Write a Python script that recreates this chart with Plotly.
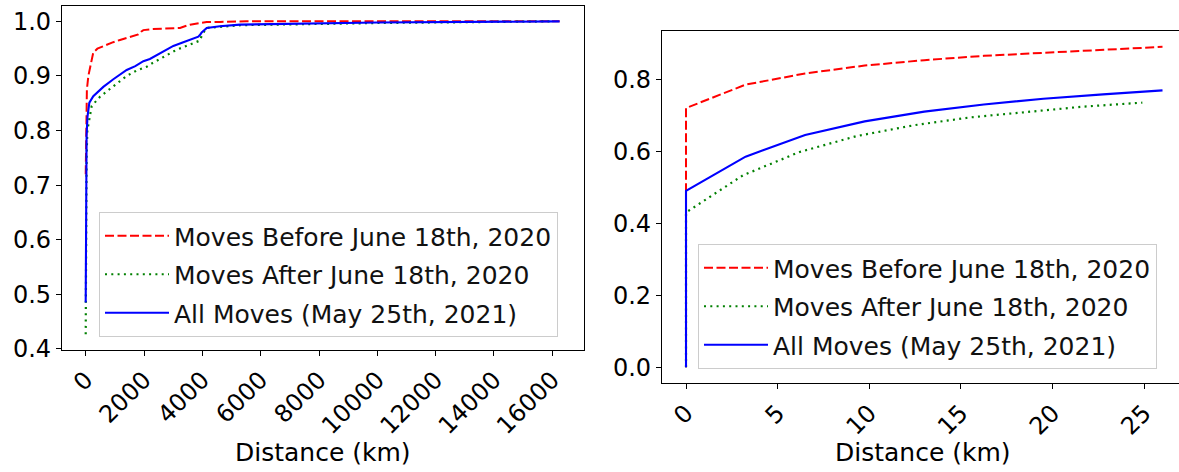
import plotly.graph_objects as go

# ---------------- data ----------------
# Left panel: full distance range (km) vs cumulative fraction
before_km = [0, 15, 40, 90, 180, 260, 400, 604, 900, 1176, 1500, 1804, 1900, 1976,
             2300, 2548, 3000, 3234, 3400, 3577, 3900, 4150, 4600, 5500, 16250]
before_cdf = [0.72, 0.84, 0.875, 0.90, 0.925, 0.943, 0.950, 0.955, 0.961, 0.966, 0.971,
              0.976, 0.981, 0.984, 0.986, 0.9866, 0.987, 0.988, 0.991, 0.994, 0.997,
              0.9987, 0.999, 1.0, 1.0]

after_km = [0, 10, 30, 56, 205, 490, 833, 1100, 1405, 1750, 2092, 2300, 2548, 2850,
            3120, 3500, 3920, 3990, 4150, 5292, 7115, 10000, 16000]
after_cdf = [0.427, 0.66, 0.75, 0.80, 0.845, 0.862, 0.876, 0.888, 0.900, 0.910, 0.917,
             0.924, 0.931, 0.940, 0.948, 0.956, 0.965, 0.976, 0.988, 0.993, 0.995, 0.997, 1.0]

all_km = [0, 10, 30, 60, 125, 260, 430, 604, 947, 1200, 1405, 1700, 1977, 2200, 2435,
          2700, 3005, 3300, 3577, 3862, 3930, 3977, 4150, 4600, 5292, 7115, 10000, 16250]
all_cdf = [0.485, 0.72, 0.79, 0.825, 0.851, 0.863, 0.872, 0.880, 0.894, 0.903, 0.911,
           0.918, 0.927, 0.931, 0.938, 0.946, 0.955, 0.961, 0.967, 0.972, 0.976, 0.9796,
           0.988, 0.991, 0.994, 0.996, 0.998, 1.0]

# Right panel: zoom on the first ~26 km
zoom_km = [0, 0, 3.25, 6.5, 9.75, 13, 16.25, 19.5, 22.75, 26]
zoom_before = [0, 0.72, 0.785, 0.816, 0.838, 0.853, 0.865, 0.874, 0.882, 0.89]
zoom_all = [0, 0.49, 0.585, 0.645, 0.683, 0.71, 0.73, 0.746, 0.758, 0.769]
zoom_after_km = [0, 0, 3.1, 6.2, 9.3, 12.4, 15.5, 18.6, 21.7, 24.9]
zoom_after = [0, 0.43, 0.533, 0.598, 0.642, 0.672, 0.694, 0.71, 0.724, 0.735]

series_names = ["Moves Before June 18th, 2020", "Moves After June 18th, 2020",
                "All Moves (May 25th, 2021)"]
left_xticks = [0, 2000, 4000, 6000, 8000, 10000, 12000, 14000, 16000]
left_xticktext = ["0", "2000", "4000", "6000", "8000", "10000", "12000", "14000", "16000"]
left_yticks = [0.4, 0.5, 0.6, 0.7, 0.8, 0.9, 1.0]
right_xticks = [0, 5, 10, 15, 20, 25]
right_yticks = [0.0, 0.2, 0.4, 0.6, 0.8]
x_title = "Distance (km)"

# ---------------- styling ----------------
W, H = 1179, 472
FONT = "DejaVu Sans"
styles = [
    dict(color="#ff0000", width=2.0, dash="9px,3.5px"),
    dict(color="#008000", width=2.2, dash="2px,4.3px"),
    dict(color="#0000ff", width=2.1, dash="solid"),
]

fig = go.Figure()

left_sets = [(before_km, before_cdf), (after_km, after_cdf), (all_km, all_cdf)]
right_sets = [(zoom_km, zoom_before), (zoom_after_km, zoom_after), (zoom_km, zoom_all)]

for i, (xs, ys) in enumerate(left_sets):
    fig.add_trace(go.Scatter(x=xs, y=ys, mode="lines", name=series_names[i],
                             line=styles[i], xaxis="x", yaxis="y",
                             legend="legend", legendgroup="L%d" % i))
for i, (xs, ys) in enumerate(right_sets):
    fig.add_trace(go.Scatter(x=xs, y=ys, mode="lines", name=series_names[i],
                             line=styles[i], xaxis="x2", yaxis="y2",
                             legend="legend2", legendgroup="R%d" % i))

axis_common = dict(showgrid=False, zeroline=False, showline=True, linecolor="black",
                   linewidth=1.3, ticks="outside", ticklen=5, tickwidth=1.2,
                   automargin=False,
                   tickcolor="black", tickfont=dict(family=FONT, size=24, color="black"))

legend_common = dict(font=dict(family=FONT, size=25, color="#111111"),
                     bgcolor="rgba(255,255,255,0.8)", bordercolor="#cccccc",
                     borderwidth=1, xanchor="left", yanchor="top",
                     tracegroupgap=3, itemwidth=64, traceorder="grouped")

fig.update_layout(
    width=W, height=H,
    margin=dict(l=0, r=0, t=0, b=0, pad=0, autoexpand=False),
    paper_bgcolor="white", plot_bgcolor="white",
    font=dict(family=FONT, color="black"),
    showlegend=True,
    xaxis=dict(domain=[62 / W, 583.6 / W], range=[-813, 17073], tickvals=left_xticks,
               ticktext=left_xticktext, tickangle=-45, mirror=True, anchor="y",
               **axis_common),
    yaxis=dict(domain=[(H - 350) / H, (H - 5.7) / H], range=[0.398, 1.0287],
               tickvals=left_yticks, tickformat=".1f", mirror=True, anchor="x",
               **axis_common),
    xaxis2=dict(domain=[662 / W, 1.0], range=[-1.31, 26.9], tickvals=right_xticks,
                tickangle=-45, mirror=True, anchor="y2", **axis_common),
    yaxis2=dict(domain=[(H - 383.3) / H, (H - 31) / H], range=[-0.0445, 0.934],
                tickvals=right_yticks, tickformat=".1f", anchor="x2", **axis_common),
    legend=dict(x=99 / W, y=(H - 212) / H, **legend_common),
    legend2=dict(x=698 / W, y=(H - 244) / H, **legend_common),
    annotations=[
        dict(text=x_title, xref="paper", yref="paper", x=322.8 / W, y=(H - 452) / H,
             xanchor="center", yanchor="middle", showarrow=False,
             font=dict(family=FONT, size=25, color="black")),
        dict(text=x_title, xref="paper", yref="paper", x=923 / W, y=(H - 452) / H,
             xanchor="center", yanchor="middle", showarrow=False,
             font=dict(family=FONT, size=25, color="black")),
    ],
)

fig.write_html("out.html")
